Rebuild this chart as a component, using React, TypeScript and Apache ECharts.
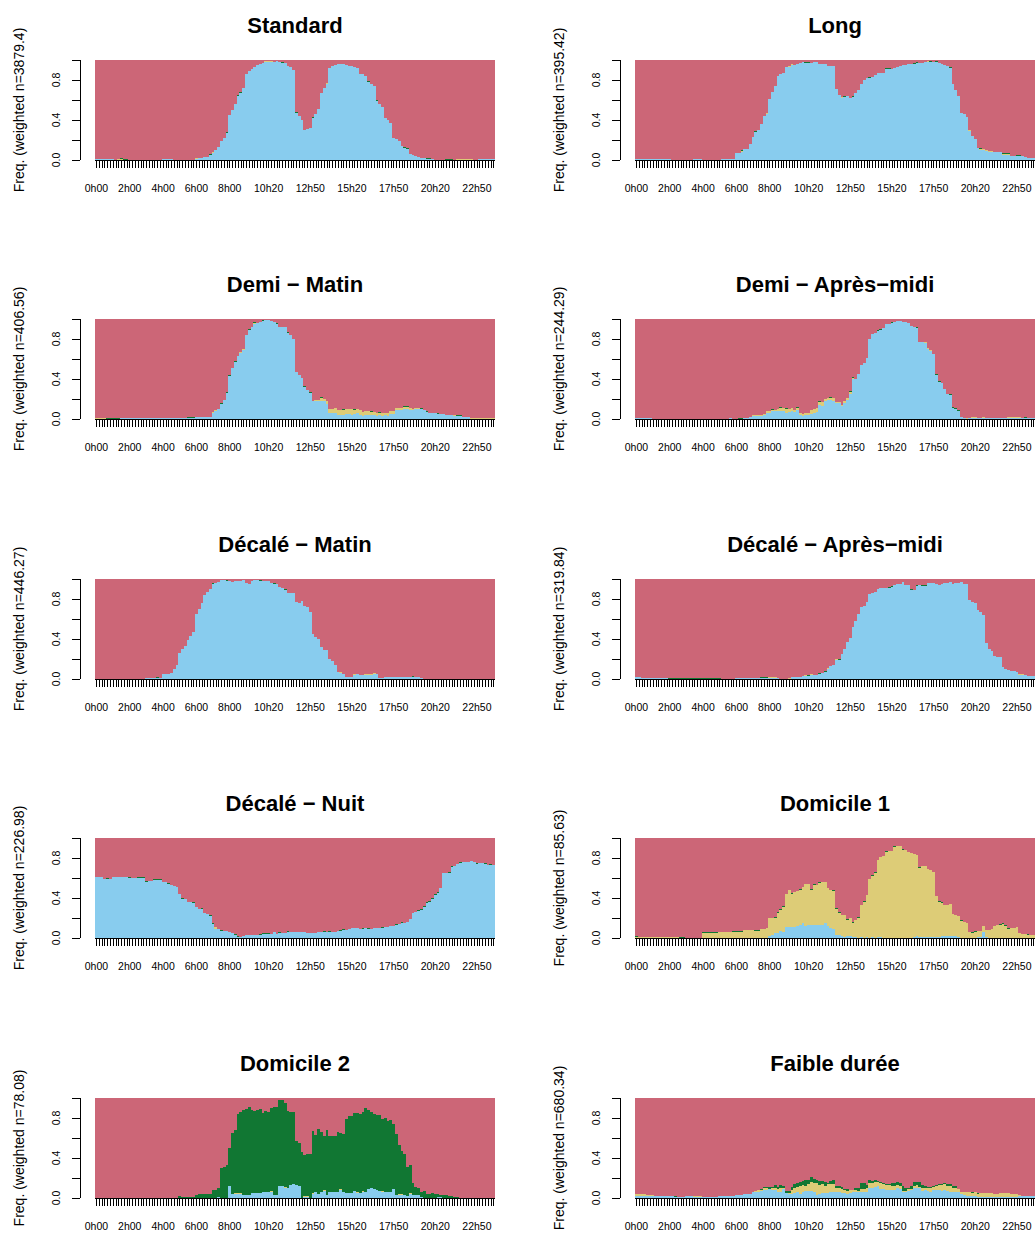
import React, { useEffect, useRef } from "react";
import * as echarts from "echarts";

const FONT = "'Liberation Sans', Arial, Helvetica, sans-serif";
const COL_BLUE = "#88CCEE";
const COL_YELLOW = "#DDCC77";
const COL_GREEN = "#117733";
const COL_RED = "#CC6677";

const panelTitles = [
  "Standard", "Long", "Demi \u2212 Matin", "Demi \u2212 Apr\u00e8s\u2212midi",
  "D\u00e9cal\u00e9 \u2212 Matin", "D\u00e9cal\u00e9 \u2212 Apr\u00e8s\u2212midi",
  "D\u00e9cal\u00e9 \u2212 Nuit", "Domicile 1", "Domicile 2", "Faible dur\u00e9e",
];
const weightedN = ["3879.4", "395.42", "406.56", "244.29", "446.27", "319.84", "226.98", "85.63", "78.08", "680.34"];
const shownTickLabels = ["0h00", "2h00", "4h00", "6h00", "8h00", "10h20", "12h50", "15h20", "17h50", "20h20", "22h50"];
const yTickLabels = ["0.0", "0.4", "0.8"];
const timeCategories = Array.from({ length: 144 }, (_, i) => `${Math.floor(i / 6)}h${String((i % 6) * 10).padStart(2, "0")}`);

// values in percent, one per 10-minute bin
const stdBlue = [
  1,1,1,1,1,1,1,0.5,0.5,0.5,
  0.5,0.5,0.5,0.5,0.5,0.5,0.5,0.5,0.5,0.5,
  0.5,0.5,0.5,0.5,1,1,1,1,0.5,0.5,
  0.5,0.5,0.5,0.5,0.5,0.5,1,2,2,3,
  3,5,7,10,13,19,22,27,45,50,
  56,64,67,72,86,89,91,93,95,96,
  97,98,98,98,98,99,98,97,97,94,
  93,90,47,44,40,30,31,32,42,46,
  51,67,72,76,92,94,95,96,96,96,
  95,94,94,93,92,86,86,84,78,76,
  74,59,56,53,42,40,37,22,21,19,
  14,12,11,6,5,4,3,2,2,1,
  1,1,0.5,0.5,0.5,0.5,0.5,0.5,0.5,0.5,
  0.5,0.5,0.5,0.5,0.5,0.5,0.5,0.5,1,1,
  1,1,1,1,
];
const stdYellow: Record<number, number> = { 8: 0.5, 9: 0.5, 36: 1, 42: 1, 50: 0.5, 54: 0.5, 57: 0.5, 61: 1, 62: 1, 63: 1, 83: 1, 93: 0.5, 118: 0.5, 130: 1, 131: 1, 132: 1, 133: 1, 134: 1, 135: 1 };
const stdGreen: Record<number, number> = { 9: 1, 10: 1, 11: 1, 41: 1, 47: 1, 51: 1, 52: 1, 67: 1, 72: 1, 78: 1, 98: 1, 101: 1, 111: 1, 112: 1, 119: 1, 120: 1, 126: 1, 127: 1, 128: 1 };

const longBlue = [
  1,1,1,1,1,1,1,1,1,1,
  1,1,1,0.3,0.3,0.3,0.3,0.3,0.3,0.3,
  0.3,1,1,1,0.3,0.3,0.3,0.3,0.3,0.3,
  0.3,1.5,1.5,1.5,1.5,1.5,7,7,8,11,
  11,16,23,28,30,36,44,46,61,68,
  74,84,86,87,93,93,95,95,96,97,
  98,97,97,97,98,98,96,96,96,94,
  94,94,71,65,62,63,64,62,63,67,
  70,76,80,82,82,83,85,87,87,87,
  91,91,91,92,93,94,95,95,96,96,
  96,97,97,97,98,98,98,98,98,97,
  96,95,94,92,76,70,64,47,46,43,
  29,24,21,12,10,10,9,8,8,8,
  8,8,5,5,5,4,4,4,4,4,
  3,2,2,2,
];
const longYellow: Record<number, number> = { 38: 1, 47: 1, 55: 1, 56: 1, 62: 0.5, 68: 0.5, 74: 1, 85: 0.5, 105: 1, 120: 1, 124: 1, 125: 1, 126: 1, 127: 1, 128: 1, 129: 0.5, 130: 0.5, 131: 0.5, 132: 1, 133: 1, 134: 1 };
const longGreen: Record<number, number> = { 38: 1, 43: 1, 61: 1, 62: 1, 75: 1, 78: 1, 84: 1, 90: 1, 91: 1, 100: 1, 101: 1, 106: 1, 108: 1, 113: 1, 124: 1, 132: 1, 133: 1, 134: 1, 137: 1, 138: 1 };

const demiMatinBlue = [
  0,0,0,0,0,0,0,0,0,1,
  1,1,1,1,1,1,1,1,1,1,
  1,1,1,1,1,1,1,1,1,1,
  1,1,1,1.5,1.5,1.5,2,2,2,2,
  2,2,6,8,10,15,19,26,43,51,
  57,63,66,69,84,89,92,95,96,97,
  98,99,99,98,97,95,92,92,92,86,
  84,80,47,44,41,32,29,26,18,18,
  18,18,18,15,6,6,6,4,4,4,
  5,5,4,5,6,4,3,4,4,4,
  4,3,4,3,4,3,5,5,9,9,
  9,10,10,9,9,10,10,10,9,7,
  6,6,6,5,5,5,4,4,4,3.5,
  3,3,2,2,2,0.5,0.5,0.5,0.5,0.5,
  0.5,0.5,0.5,0.5,
];
const demiMatinYellow = [
  1,1,1,1,0,0,0,0,0,0,
  0,0,0,0,0,0,0,0,0,0,
  0,0,0,0,0,0,0,0,0,0,
  0,0,0,0,0,0,0,0,0,0,
  0,0,1,1,0.5,0.5,0,0,0,0,
  0,0,1,1,0,0,0,1,0,0,
  0,0,0,0,0,0,0,0,0,0,
  0,0,0,0,0,0,0,0,0.5,1,
  1,3,2,3,4,4,5,5,5,5,
  5,5,6,4,4,5,4,4,4,3,
  3,3,2,3,2,3,3,3,2,2,
  2,2,2,2,1,1,1,0.5,0.5,0.5,
  0.5,0.5,0.5,0.5,0.5,0.5,0.5,0.5,0.5,1,
  0.5,0.5,0.5,0.5,0.5,1,1,1,1,1,
  1,1,1,1,
];
const demiMatinGreen = [
  0,0,0,0,1,1,1,1,1,0.5,
  0.5,0.5,0.5,0.5,0.5,0.5,0.5,0.5,0.5,0.5,
  0.5,0.5,0.5,0.5,0.5,0.5,0.5,0.5,0.5,0.5,
  0.5,0.5,0.5,1,1,1,0,0,0,0,
  0,0,0,0,0,1,0,1,1,0,
  1,0,0,0,0,1,0,1,0,0.5,
  1,0,0,0,0,1,0,0,0,1,
  0,0.5,0,0,0,1,0,1,0,0.5,
  0,1,0,0,0,0,0,0,0,1,
  0,0,0,1,0,0,0,0,0,1,
  0,0,1,0,0,0,0,0,0,0,
  0,1,1,0,0,0,0,1,0,1,
  0,0,0,1,0,0,0,0,0,0,
  1,1,0,0,0,0,0,0,0,0,
  0,0,0,0,
];

const demiApmBlue = [
  1,1,1,1,1,1,0.3,0.3,0.3,0.3,
  0.3,0.3,0.3,0.3,0.3,0.3,0.3,0.3,0.3,0.3,
  0.3,0.3,0.3,0.3,0.3,0.3,0.3,0.3,0.3,0.3,
  0.3,0.3,0.3,0.3,1,0,0,0,0,1,
  1,2,3,3,3,3,4,6,6,8,
  8,8,8,8,6,7,8,7,9,4,
  3,4,4,5,6,7,14,13,18,19,
  19,18,16,16,13,16,19,25,40,40,
  45,54,56,61,80,85,86,88,89,91,
  95,95,96,97,98,98,97,97,96,93,
  92,91,77,77,76,70,68,65,44,37,
  36,30,25,24,11,10,8,2,1,0,
  1,1,1,1,1,1,1,1,1,1,
  1,1,1,1,1,1,1,1,1,1,
  1,1,1,1,
];
const demiApmYellow = [
  0,0,0,0,0,0,0,0,0,0,
  0,0,0,0,0,0,0,0,0,0,
  0,0,0,0,0,0,0,0,0,0,
  0,0,0,0,0,0,0,0,0,0,
  0,0,1,1,1,1,1,2,2,1,
  1,2,3,3,4,3,3,2,2,2,
  2,2,2,4,4,4,3,4,2,2,
  2,3,1,1,1,2,2,2,1,0.5,
  0.5,0.5,0.5,0.5,0,0,0,0,0,0,
  0,0,0,0,0,0,0,0,0,0,
  0,0,0,0,1,1,1,0,0,0,
  0,0,0,0,0,0,0,0,0,1,
  0,1,1,0.5,0.5,1,0.5,0.5,0.5,0.5,
  0.5,0.5,0.5,0.5,1,1,1,1,1,0.5,
  0.5,0.5,0.5,0.5,
];
const demiApmGreen = [
  0,0,0,0,0,0,0,0,0,0,
  0,0,0,0,0,0,0,0,0,0,
  0,0,0,0,0,0,0,0,0,0,
  0,0,0,0,0,0,0,1,1,0,
  0,0,0,0,0,0.5,0,0.5,0,1,
  0,0,1,0,1,0,0,0,1,0,
  0,0,0,0.5,0,0,1,0,0,0,
  1,0,0,0,0,0.5,0,1,1,0,
  0,0,0,0,0.5,0.5,0.5,1,1,0,
  0,0.5,1,0,0,0,0,0.5,0,0,
  0,1,0,0,0,0,0.5,0,1,1,
  0,0,0,1,1,1,1,0.5,0,0,
  0,0,0,0,0,0.5,0,0,0,0,
  0,0,0,0,0,0,0,0.5,0,0,
  1,0,0,0,
];

const decMatinBlue = [
  0,0,0,0,0,0,0,0,0,0,
  0,0,0,0,0,0,0,0,1,1,
  1,1,1,1,5,5,5,6,10,14,
  26,30,33,39,43,47,65,70,76,84,
  87,90,95,96,97,99,99,98,98,97,
  98,98,98,99,96,95,98,99,99,98,
  98,98,98,96,95,95,92,91,89,86,
  86,86,77,76,78,73,72,67,45,42,
  40,32,29,29,20,18,14,7,6,5,
  2,2,2,4,5,4,4,4,4,4,
  5,5,1,1,2,2,2,2,2,2,
  2,2,2,2,2,2,2,1,0.3,0.3,
  0,0,0,0,0,0,0,0,0,0,
  0,0,0,0,0,0,0,0,0,0,
  0,0,0,0,
];
const decMatinYellow: Record<number, number> = { 88: 1, 93: 1, 97: 1, 98: 1, 99: 1, 100: 1, 101: 0.5 };
const decMatinGreen = [
  0,0,0,0,0,0,0,0,0,0,
  0,0,0,0,0,0,0,0,0,0,
  0,0,1,0,0,0,0,0,0,0,
  0,0,0,0,0,0,0,0,0,0,
  0,0,1,0,0,0,0,1,0,0,
  0,0,0,0,0,0,0,0,0,1,
  0,0,0,0,1,0,0,0,1,0,
  0,0,0,0,0,0,0,0,0,0,
  0,0,0,0,0,0,0,0,0,0,
  0,0,0,0,0,0,0,0,0,0,
  0,0,0,0,0,0,0,0,0,0,
  0,0,0,0,1,0,0,0,0,0,
  0.5,0.5,0.5,0.5,0.5,0.5,0.5,0.5,0.5,0.5,
  0.5,0.5,0.5,0.5,0.5,0.5,0.5,0.5,0,0,
  0,0.5,0.5,0.5,
];

const decApmBlue = [
  2,2,1,1,1,1,1,1,1,1,
  1,1,0,0,0,0,0,0,0,0,
  0,0,0,0,0,0,0,0,0,0,
  0,0,0,0,0,0,1,1,1,1,
  1,1,1,1,1,1,1,1,1,1,
  1,1,0,0,0,0,2,2,2,2,
  3,3,3,4,4,4,5,6,7,10,
  13,14,19,19,25,30,37,41,52,58,
  65,72,73,77,85,86,87,90,91,91,
  91,91,92,94,95,95,97,94,94,89,
  89,93,94,93,93,96,96,96,95,94,
  95,96,96,97,95,96,96,97,95,95,
  79,77,76,69,67,64,36,30,28,23,
  22,22,12,10,9,8,8,7,4,4,
  4,3,3,3,
];
const decApmYellow: Record<number, number> = { 48: 1, 49: 1, 50: 1, 55: 1, 61: 1, 63: 1, 69: 1, 72: 1, 84: 0.5, 138: 1, 139: 1, 140: 0.5 };
const decApmGreen = [
  0,0,0,0,0,0,0,0,0,0,
  0,0,1,1,1,1,1,1,1,1,
  1,1,1,1,1,1,1,1,1,1,
  1,0,0,0,0,0,0,0,0,0,
  0,0,0,0,0,1,1,1,0,0,
  0,0,0,0,0,0,0,0,0,0,
  0,0,1,0,0,0,1,0,1,0,
  0,0,0,1,0,0,0,0,0,0,
  0,0,0,0,0,0,0,0,0,0,
  0,1,1,0,0,0,0,0,0,1,
  0,1,0,1,1,0,0,0,0,0,
  0,0,0,0,0,0,0,0,0,0,
  0,0,0,0,0,0,0,0,0,0,
  0,0,0,0,0,0,0,0,0,0,
  0,0,0,0,
];

const decNuitBlue = [
  61,61,61,59,59,59,61,61,61,61,
  61,61,60,60,60,60,60,60,56,57,
  57,58,58,58,56,56,54,53,52,51,
  44,39,39,36,36,35,31,29,29,25,
  24,22,14,9,9,7,7,7,6,5,
  3,1,1,2,3,3,3,3,3,3,
  4,4,4,4,6,4,5,5,5,6,
  6,6,6,6,6,6,5,5,5,5,
  6,6,6,6,6,6,6,7,7,8,
  8,9,10,10,10,9,9,10,9,9,
  10,10,10,10,11,11,12,12,13,14,
  15,15,16,19,25,26,27,28,31,35,
  36,39,43,45,50,65,65,65,71,72,
  74,75,76,76,76,77,76,74,75,75,
  74,73,73,73,
];
const decNuitYellow: Record<number, number> = { 43: 2 };
const decNuitGreen = [
  0,0,0,0,1,0,0,0,0,0,
  0,0,1,0,0,1,1,1,1,0,
  0,1,1,1,0,0,1,0,0,0,
  0,1,0,0,0,1,0,0,1,0,
  0,1,1,0,0,1,0,0,0,0,
  1,1,0,0,0,0,0,0,0,1,
  1,1,1,0,0,0,1,0,0,1,
  0,0,0,0,0,0,0,0,0,0,
  0,0,1,0,1,0,0,0,1,1,
  0,0,0,0,0,0,1,0,1,0,
  0,0,0,1,0,0,0,0,1,0,
  1,0,0,0,0,0,1,1,1,1,
  1,1,1,1,0,0,0,1,1,0,
  0,1,0,0,0,0,0,1,0,0,
  1,0,1,0,
];

const dom1Blue = [
  0,0,0,0,0,0,0,0,0,0,
  0,0,0,0,0,0,0,0,0,0,
  0,0,0,0,0,0,0,0,0,0,
  0,0,0,0,0,0,0,0,0,0,
  0,0,0,0,0,0,0,0.5,2,3,
  5,5,7,6,11,11,11,11,12,13,
  15,12,13,13,13,13,13,13,15,12,
  10,9,3,3,2,1,2,2,1,1,
  0.5,1,0.5,1,0.5,1,0.5,1,1,0.5,
  0.5,0.5,0.5,0.5,0.5,0.5,0.5,0.5,0.5,0.5,
  1,2,1,1,1,1,1,1,1,1,
  2,2,2,2,2,2,1,0.5,0.5,0.5,
  0.5,0.5,0.5,1,1,6,1,0.5,0.5,0.5,
  0.5,0.5,0.5,0.5,0.5,0.5,0.5,0.5,0,0,
  0,0,0,0,
];
const dom1Yellow = [
  1,1,1,1,1,1,1,1,1,1,
  1,1,1,1,1,1,0,0,0.3,0.3,
  0.3,0.3,0.3,0.3,5,5,5,5,5,5,
  6,6,6,6,6,6,6,6,6,8,
  8,8,8,7,7,9,9,9.5,18,17,
  15,20,21,25,33,37,33,35,35,35,
  36,42,41,35,40,40,42,43,41,38,
  38,38,26,22,21,22,16,18,14,17,
  19.5,32,35.5,42,58.5,61,64.5,77,80,81.5,
  85.5,86.5,86.5,90.5,91.5,91.5,87.5,87.5,85.5,84.5,
  83,81,69,71,71,68,67,65,41,35,
  33,31,31,32,22,21,21,16.5,15.5,14.5,
  5.5,4.5,5.5,6,6,6,7,7.5,8.5,11.5,
  12.5,12.5,13.5,11.5,8.5,9.5,9.5,10.5,5,4,
  4,3,3,3,
];
const dom1Green = [
  1,0,0,0,0,0,0,0,0,0,
  0,0,0,0,0,0,1,1,0,0,
  0,0,0,0,1,1,1,1,1,1,
  0,0,0,0,0,1,1,1,1,0,
  0,0,0,1,1,0,0,0,0,0,
  1,1,1,1,0,0,1,0,0,1,
  0,0,0,1,1,0,1,0,0,0,
  0,1,1,1,0,0,1,0,1,0,
  1,0,1,0,0,1,1,0,0,0,
  1,0,0,1,0,0,1,0,0,0,
  0,0,1,0,0,0,0,0,0,1,
  1,0,0,0,0,0,0,1,0,0,
  0,1,1,0,0,0,0,0,0,0,
  0,1,1,1,1,0,0,0,0,0,
  0,1,0,0,
];

const dom2Blue = [
  0,0,0,0,0,0,0,0,0,0,
  0,0,0,0,0,0,0,0,0,0,
  0,0,0,0,0,0,0,0,0,0,
  0,0,0,0,0,0,0,0,0,0,
  0,0,0,0,1,0,0,0,12,4,
  4,4,4,3,3,3,5,5,5,5,
  6,6,6,6,3,3,12,12,10,10,
  13,14,13,12,0,1,1,0,4,6,
  4,6,7,3,6,6,6,6,8,6,
  5,5,5,7,5,5,6,6,9,10,
  9,8,7,6,6,6,6,9,3,3,
  3,3,2,4,3,3,3,1,0,0,
  0,0,0,1,1,0,0,0,0,0,
  0,0,0,0,0,0,0,0,0,0,
  0,0,0,0,
];
const dom2Yellow = [
  0,0,0,0,0,0,0,0,0,0,
  0,0,0,0,0,0,0,0,0,0,
  0,0,0,0,0,0,0,0,0,0,
  0,0,0,0,0,0,0,0,0,0,
  0,0,0,0,0,0,0,0,0,0.5,
  1,1,1,0,0,0,0,0,0,0,
  0,0,0,1,0,0,0,0,1,0,
  0,0,0,0,0,1,1,0,1,0,
  0,0,1,0,0,0,0,0,1,0,
  0,0,0,0,1,0,1,0,0,0,
  0,0,0,1,0,0,0,0,0,1,
  1,0,0,1,0,0,0,0,0,0,
  0,0,0,0,0,0,0,0,0,0,
  0,0,0,0,0,0,0,0,0,0,
  0,0,0,0,
];
const dom2Green = [
  0,0,0,0,0,0,0,0,0,0,
  0,0,0,0,0,0,0,0,0,0,
  0,0,0,0,0,0,0,0,0.5,0.5,
  2,1,1,1,1,1,3,4,4,4,
  4,4,8,8,9,30,31,33,38,60.5,
  63,79,81,85,86,88,83,82,83,84,
  79,81,80,83,88,88,86,86,84,77,
  73,72,44,43,46,41,42,44,62,57,
  65,60,54,65,56,56,56,60,56,58,
  74,77,77,78,79,79,79,84,79,76,
  75,75,76,72,74,71,72,65,61,49,
  43,41,29,28,12,8,7,5,7,4,
  4,5,4,3,2,3,3,2,2,1,
  1,0,0,0,0,0,0,0,0,0,
  0,0,0,0,
];

const faibleBlue = [
  2,2,2,2,2,2,2,2,2,2,
  2,2,2,2,1,1,1,1,2,2,
  2,1,1,1,1,1,1,1,1,1,
  2,2,2,2,2,2,3,3,3,4,
  4,4,6,6,6,7,8,8,9,8,
  8,6,6,9,5,4,4,5,6,4,
  6,7,7,7,6,3,4,5,5,5,
  6,6,6,6,5,5,4,5,6,6,
  6,6,6,6,10,10,11,12,9,9,
  8,8,8,8,10,9,6,6,7,8,
  10,10,10,7,8,7,6,8,8,8,
  7,8,7,6,6,6,6,4,3,2,
  2,2,2,1,1,1,1,1,1,1,
  1,1,1,1,1,1,1,1,2,2,
  2,2,2,2,
];
const faibleYellow = [
  2,2,2,2,1,1,1,0,0,0,
  0,0,0,0,0,0,0,0,0,0,
  0,1,1,1,0,0,0,0,0,0,
  0,0,0,0,0,0,0,0,0,0,
  0,0,0,1,2,1,2,2,0,2,
  2,3,4,1,0,1,4,5,5,8,
  7,5,7,9,9,12,9,9,7,9,
  8,8,4,4,4,3,3,3,2,2,
  1,3,3,4,5,5,5,4,6,5,
  5,5,4,4,3,3,1,1,2,1,
  2,3,1,3,2,3,4,3,4,5,
  6,6,5,6,4,4,3,2,3,4,
  4,3,4,3,4,4,4,4,4,3,
  3,4,4,4,4,3,3,3,1,0,
  0,0,0,0,
];
const faibleGreen = [
  0,0,0,0,0,0,0,0,0,0,
  0,0,0,0,1,0,0,0,0,0,
  0,0,0,0,0,0,0,0,0,0,
  0,0,0,0,0,0,0,0,0,0,
  0,0,0,0,0,1,1,1,2,1,
  3,2,3,2,2,2,3,4,4,4,
  4,6,4,5,4,3,4,3,4,1,
  3,4,2,2,2,1,2,0,0,2,
  3,6,6,3,3,2,2,1,1,1,
  1,1,3,3,3,3,5,3,1,3,
  4,3,5,3,2,1,1,1,1,1,
  1,1,2,2,2,2,0,0,0,0,
  0,1,0,1,0,0,0,0,0,0,
  0,0,0,0,0,0,0,0,0,0,
  0,0,0,0,
];

const fromSparse = (rec: Record<number, number>) => timeCategories.map((_, i) => rec[i] ?? 0);

const panels = [
  { blue: stdBlue, yellow: fromSparse(stdYellow), green: fromSparse(stdGreen) },
  { blue: longBlue, yellow: fromSparse(longYellow), green: fromSparse(longGreen) },
  { blue: demiMatinBlue, yellow: demiMatinYellow, green: demiMatinGreen },
  { blue: demiApmBlue, yellow: demiApmYellow, green: demiApmGreen },
  { blue: decMatinBlue, yellow: fromSparse(decMatinYellow), green: decMatinGreen },
  { blue: decApmBlue, yellow: fromSparse(decApmYellow), green: decApmGreen },
  { blue: decNuitBlue, yellow: fromSparse(decNuitYellow), green: decNuitGreen },
  { blue: dom1Blue, yellow: dom1Yellow, green: dom1Green },
  { blue: dom2Blue, yellow: dom2Yellow, green: dom2Green },
  { blue: faibleBlue, yellow: faibleYellow, green: faibleGreen },
];

const COL_LEFT = [95, 635];
const ROW_TOP = [60, 319, 579, 838, 1098];
const PLOT_W = 400;
const PLOT_H = 100;

function buildOption() {
  const grid: any[] = [];
  const xAxis: any[] = [];
  const yAxis: any[] = [];
  const series: any[] = [];
  const graphic: any[] = [];

  panels.forEach((p, i) => {
    const left = COL_LEFT[i % 2];
    const top = ROW_TOP[Math.floor(i / 2)];
    grid.push({ left, top, width: PLOT_W, height: PLOT_H, containLabel: false });
    xAxis.push({
      type: "category",
      gridIndex: i,
      data: timeCategories,
      boundaryGap: true,
      offset: 2,
      axisLine: { show: true, lineStyle: { color: "#000", width: 1 } },
      axisTick: { show: true, interval: 0, alignWithLabel: true, length: 8, lineStyle: { color: "#000", width: 1 } },
      axisLabel: {
        interval: (_idx: number, val: string) => shownTickLabels.includes(val),
        fontSize: 10.5,
        fontFamily: FONT,
        color: "#000",
        margin: 20,
      },
      splitLine: { show: false },
    });
    yAxis.push({
      type: "value",
      gridIndex: i,
      min: 0,
      max: 1,
      interval: 0.2,
      offset: 15,
      axisLine: { show: true, lineStyle: { color: "#000", width: 1 } },
      axisTick: { show: true, length: 8, lineStyle: { color: "#000", width: 1 } },
      axisLabel: {
        formatter: (v: number) => {
          const s = v.toFixed(1);
          return yTickLabels.includes(s) ? s : "";
        },
        rotate: 90,
        fontSize: 10.5,
        fontFamily: FONT,
        color: "#000",
        margin: 19,
      },
      splitLine: { show: false },
      name: `Freq. (weighted n=${weightedN[i]})`,
      nameLocation: "middle",
      nameGap: 54,
      nameRotate: 90,
      nameTextStyle: { fontSize: 14, fontFamily: FONT, color: "#000" },
    });
    const red = p.blue.map((b, k) => Math.max(0, 100 - b - p.yellow[k] - p.green[k]));
    const layers: [number[], string][] = [
      [p.blue, COL_BLUE],
      [p.yellow, COL_YELLOW],
      [p.green, COL_GREEN],
      [red, COL_RED],
    ];
    layers.forEach(([vals, color], li) => {
      series.push({
        type: "bar",
        name: `s${i}_${li}`,
        xAxisIndex: i,
        yAxisIndex: i,
        stack: `p${i}`,
        barCategoryGap: "0%",
        barGap: "0%",
        silent: true,
        itemStyle: { color, borderWidth: 0 },
        data: vals.map((v) => v / 100),
      });
    });
    graphic.push({
      type: "text",
      x: left + PLOT_W / 2,
      y: top - 35,
      silent: true,
      style: {
        text: panelTitles[i],
        font: `bold 22px ${FONT}`,
        textAlign: "center",
        textVerticalAlign: "middle",
        align: "center",
        verticalAlign: "middle",
        fill: "#000",
      },
    });
  });

  return {
    animation: false,
    backgroundColor: "#fff",
    grid,
    xAxis,
    yAxis,
    series,
    graphic,
  };
}

export default function App() {
  const ref = useRef<HTMLDivElement>(null);
  useEffect(() => {
    if (!ref.current) return;
    const chart = echarts.init(ref.current, undefined, { renderer: "svg" });
    chart.setOption(buildOption() as any);
    return () => chart.dispose();
  }, []);
  return (
    <>
      <style>{`.seq-chart path { shape-rendering: crispEdges; }`}</style>
      <div
        ref={ref}
        className="seq-chart"
        style={{ position: "absolute", left: 0, top: 0, width: 1036, height: 1234, background: "#fff" }}
      />
    </>
  );
}
